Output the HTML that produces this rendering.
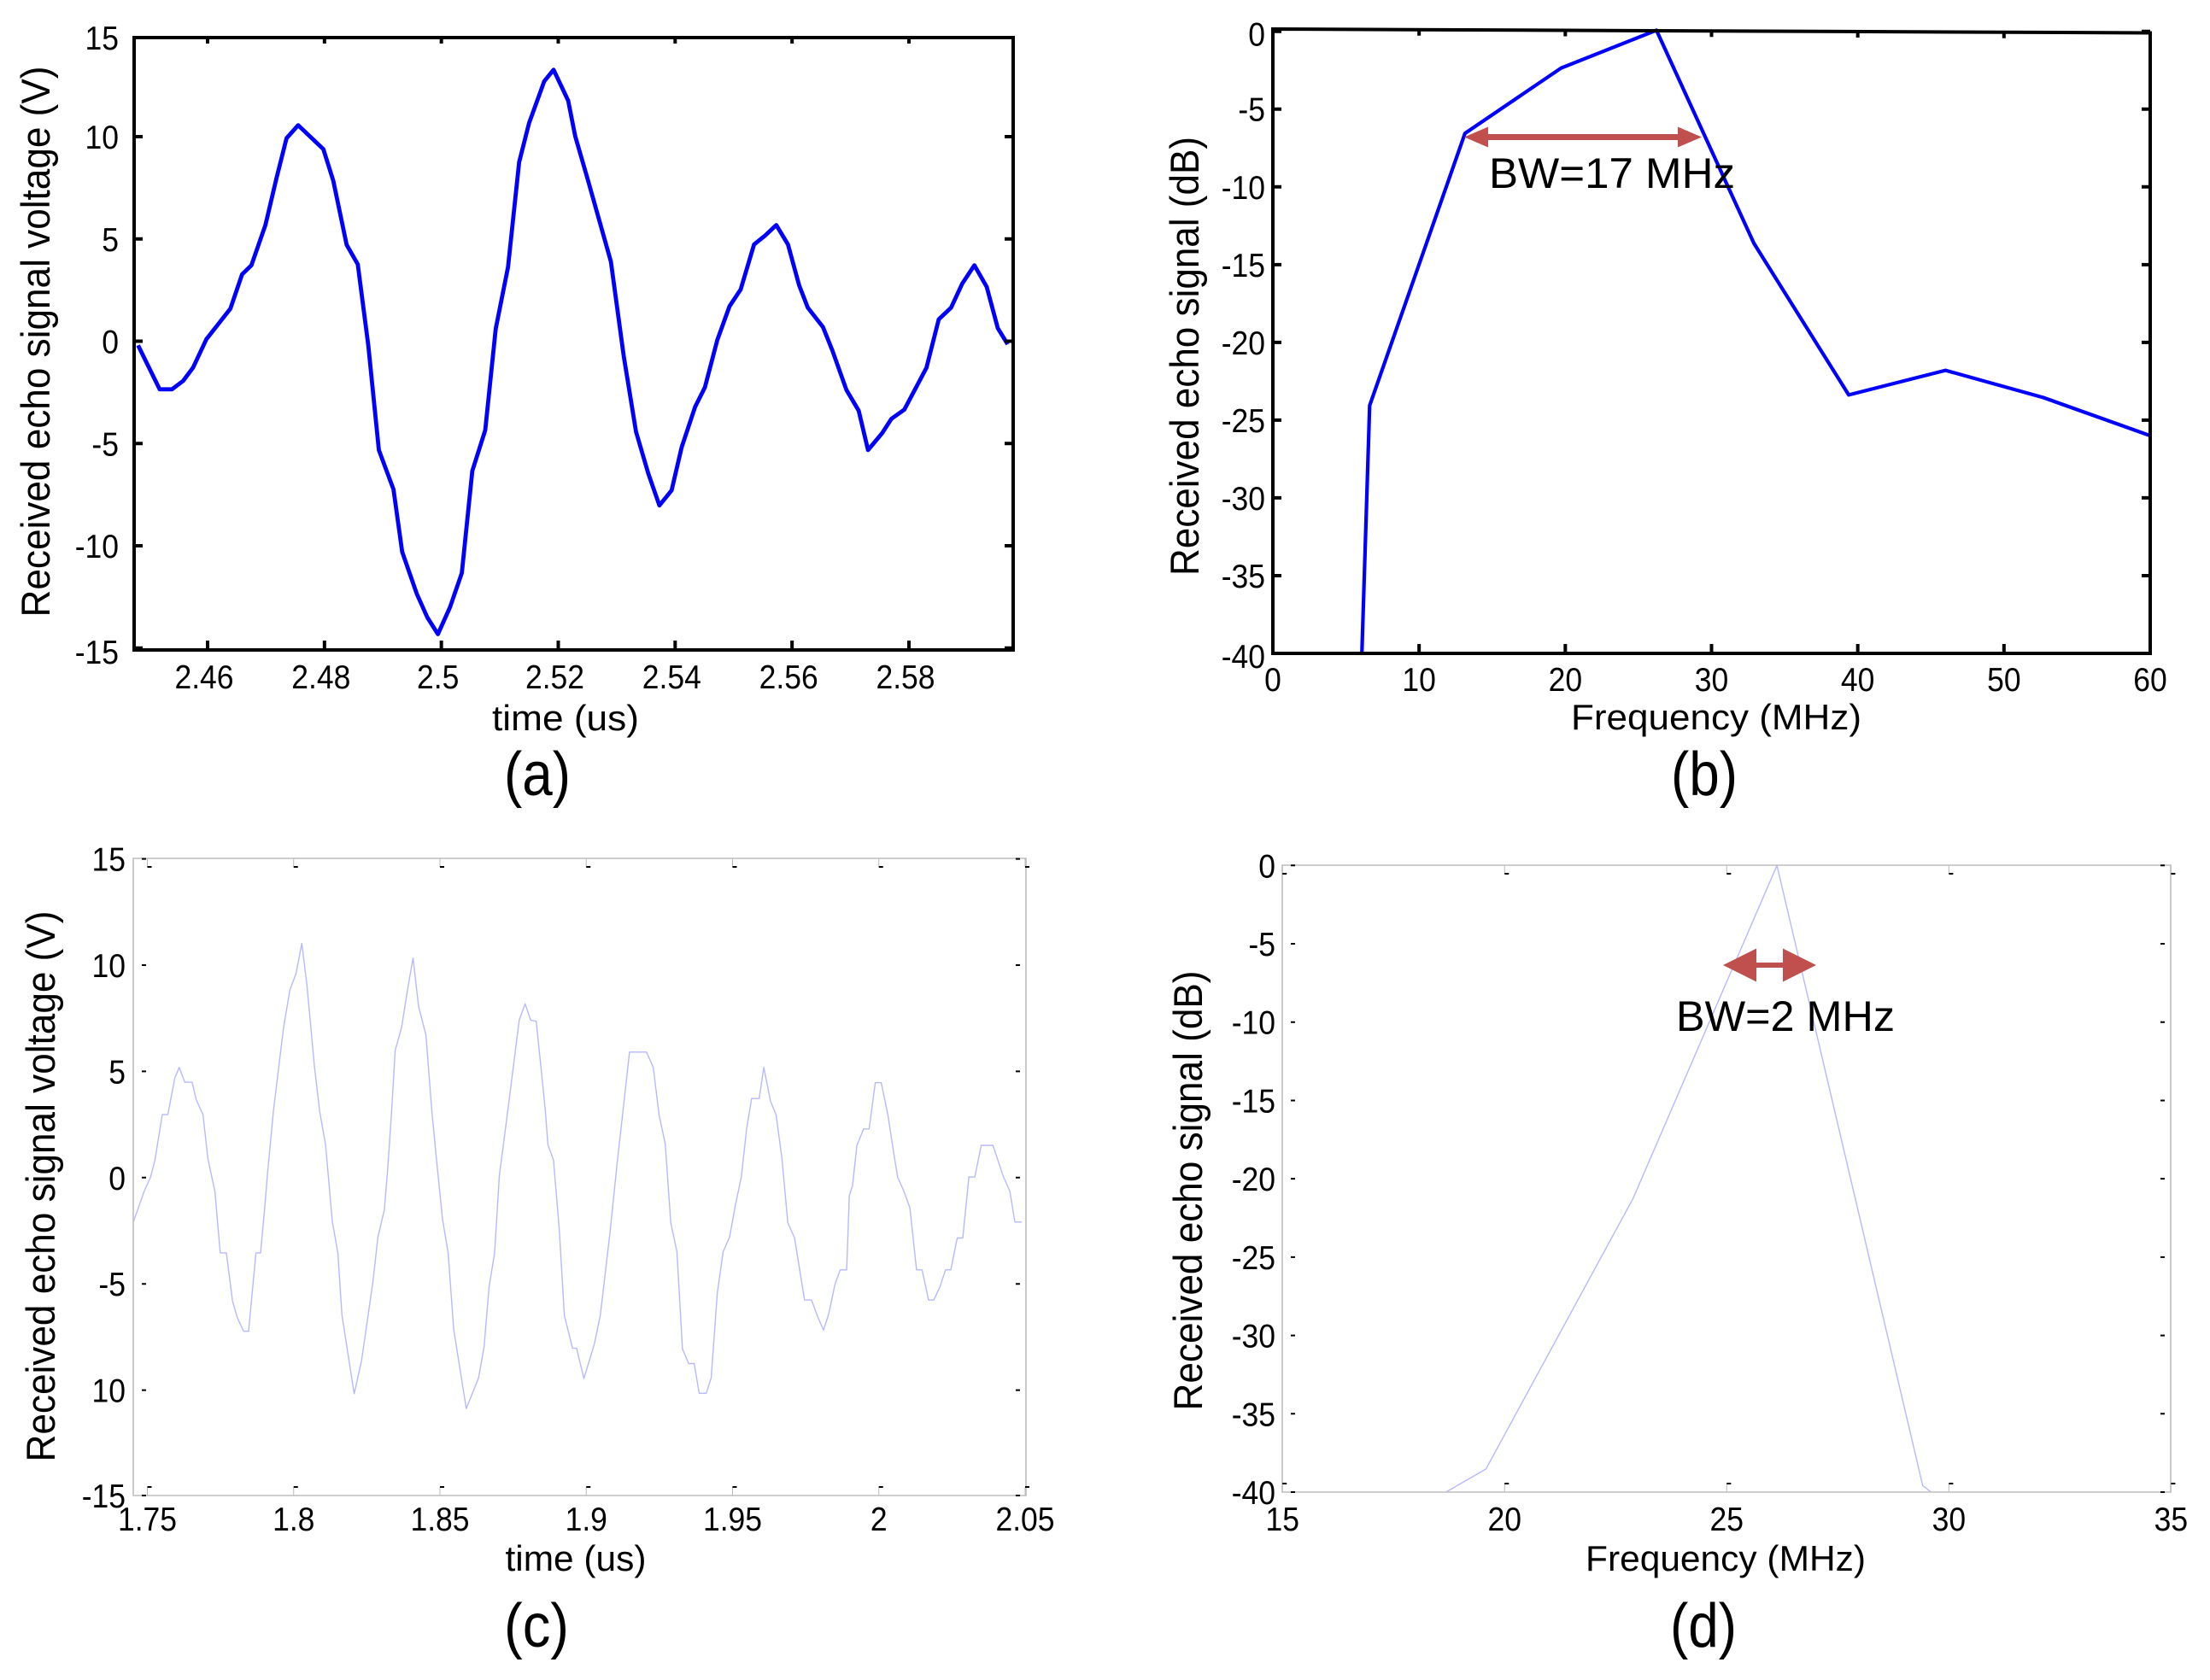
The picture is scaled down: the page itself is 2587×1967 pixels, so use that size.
<!DOCTYPE html>
<html lang="en">
<head>
<meta charset="utf-8">
<title>Received echo signal charts</title>
<style>
html,body{margin:0;padding:0;background:#fff;}
svg{display:block;}
text{font-family:"Liberation Sans",Arial,sans-serif;fill:#000;}
</style>
</head>
<body>
<svg id="figure" xmlns="http://www.w3.org/2000/svg" width="2587" height="1967" viewBox="0 0 2587 1967">
<rect x="0" y="0" width="2587" height="1967" fill="#fff"/>
</svg>
<script>
var aTime=[2.4481,2.4518,2.4539,2.4558,2.4575,2.4598,2.4639,2.4659,2.4675,2.4699,2.4718,2.4735,2.4755,2.4798,2.4815,2.4838,2.4857,2.4875,2.4893,2.4918,2.4933,2.4958,2.4976,2.4994,2.5015,2.5035,2.5053,2.5075,2.5093,2.5114,2.5133,2.5150,2.5176,2.5192,2.5217,2.5229,2.5251,2.5290,2.5312,2.5333,2.5354,2.5373,2.5394,2.5411,2.5434,2.5451,2.5472,2.5493,2.5512,2.5535,2.5554,2.5573,2.5593,2.5612,2.5627,2.5653,2.5669,2.5693,2.5714,2.5730,2.5754,2.5770,2.5792,2.5830,2.5851,2.5872,2.5891,2.5912,2.5933,2.5952,2.5969];
var aVolt=[-0.2,-2.35,-2.35,-1.94,-1.3,0.1,1.59,3.27,3.71,5.68,7.98,9.92,10.56,9.39,7.85,4.71,3.76,-0.2,-5.32,-7.24,-10.3,-12.35,-13.5,-14.32,-12.99,-11.33,-6.34,-4.35,0.61,3.63,8.75,10.66,12.71,13.27,11.76,10.03,7.85,3.89,-0.72,-4.42,-6.47,-8.03,-7.29,-5.19,-3.22,-2.25,0.05,1.71,2.53,4.73,5.17,5.68,4.73,2.74,1.64,0.69,-0.46,-2.38,-3.4,-5.32,-4.5,-3.79,-3.35,-1.3,1.07,1.64,2.81,3.71,2.66,0.64,-0.15];
var bFreq=[6.09,6.62,13.14,19.71,26.23,32.9,39.38,46.0,52.7,60];
var bDb=[-40,-24.06,-6.56,-2.36,0.07,-13.63,-23.38,-21.8,-23.55,-26.0];
var cTime=[1.7452,1.7489,1.7511,1.7526,1.7551,1.7570,1.7594,1.7609,1.7628,1.7653,1.7667,1.7690,1.7707,1.7731,1.7749,1.7770,1.7791,1.7808,1.7829,1.7846,1.7871,1.7887,1.7902,1.7910,1.7931,1.7965,1.7987,1.8008,1.8028,1.8045,1.8071,1.8089,1.8109,1.8132,1.8151,1.8165,1.8207,1.8232,1.8271,1.8288,1.8310,1.8322,1.8335,1.8347,1.8369,1.8389,1.8408,1.8427,1.8452,1.8472,1.8489,1.8509,1.8528,1.8547,1.8590,1.8632,1.8651,1.8668,1.8687,1.8703,1.8732,1.8771,1.8791,1.8810,1.8829,1.8849,1.8860,1.8869,1.8888,1.8908,1.8925,1.8953,1.8967,1.8992,1.9028,1.9048,1.9081,1.9106,1.9126,1.9148,1.9206,1.9229,1.9249,1.9270,1.9289,1.9310,1.9329,1.9350,1.9369,1.9386,1.9410,1.9427,1.9448,1.9468,1.9490,1.9509,1.9530,1.9548,1.9565,1.9591,1.9607,1.9630,1.9649,1.9669,1.9689,1.9712,1.9746,1.9770,1.9790,1.9811,1.9829,1.9850,1.9868,1.9890,1.9899,1.9910,1.9925,1.9948,1.9967,1.9988,2.0008,2.0031,2.0046,2.0064,2.0086,2.0106,2.0129,2.0148,2.0170,2.0188,2.0209,2.0228,2.0246,2.0268,2.0287,2.0308,2.0328,2.0350,2.0390,2.0426,2.0448,2.0465,2.0488];
var cVolt=[-2.09,-0.65,0.03,0.83,2.97,2.97,4.70,5.19,4.49,4.49,3.67,2.97,0.88,-0.65,-3.54,-3.54,-5.81,-6.61,-7.23,-7.23,-3.54,-3.54,-1.27,0.08,3.15,7.02,8.83,9.60,11.02,9.09,5.22,3.12,1.55,-2.07,-3.54,-6.48,-10.17,-8.62,-4.88,-2.79,-1.52,0.49,3.18,5.99,7.07,8.83,10.33,8.06,6.71,3.18,0.75,-1.99,-3.54,-7.15,-10.87,-9.42,-7.95,-5.14,-3.54,0.08,3.18,7.41,8.18,7.41,7.36,4.70,3.18,1.55,0.83,-2.45,-6.48,-8.03,-8.03,-9.45,-7.82,-6.48,-2.61,0.75,3.18,5.91,5.91,5.19,2.95,1.59,-2.12,-3.49,-8.06,-8.75,-8.75,-10.15,-10.15,-9.42,-5.42,-3.49,-2.79,-1.34,0.03,2.27,3.72,3.72,5.19,3.59,2.95,0.88,-2.12,-2.84,-5.76,-5.76,-6.51,-7.18,-6.40,-5.03,-4.34,-4.34,-0.85,-0.39,1.52,2.29,2.29,4.47,4.47,2.95,1.59,0.03,-0.65,-1.42,-4.34,-4.34,-5.76,-5.76,-5.14,-4.34,-4.34,-2.84,-2.84,0.03,0.03,1.52,1.52,0.03,-0.65,-2.09,-2.09];
var dFreq=[18.68,19.58,22.89,26.13,29.41,29.6];
var dDb=[-40,-38.53,-21.26,0,-39.58,-40];

var aXTicks=[2.46,2.48,2.5,2.52,2.54,2.56,2.58];
var aXLabels=["2.46","2.48","2.5","2.52","2.54","2.56","2.58"];
var aYTicks=[15,10,5,0,-5,-10,-15];
var bXTicks=[0,10,20,30,40,50,60];
var bYTicks=[0,-5,-10,-15,-20,-25,-30,-35,-40];
var cXTicks=[1.75,1.8,1.85,1.9,1.95,2,2.05];
var cXLabels=["1.75","1.8","1.85","1.9","1.95","2","2.05"];
var cYTicks=[15,10,5,0,-5,-10,-15];
var cYLabels=["15","10","5","0","-5","10","-15"];
var dXTicks=[15,20,25,30,35];
var dYTicks=[0,-5,-10,-15,-20,-25,-30,-35,-40];

var NS="http://www.w3.org/2000/svg";
var svg=document.getElementById("figure");

function make(tag,parent,name,attrs){
  var el=document.createElementNS(NS,tag);
  
  
  for(var k in attrs){el.setAttribute(k,attrs[k]);}
  parent.appendChild(el);
  return el;
}
function label(parent,name,str,x,y,size,anchor,opts){
  opts=opts||{};
  var t=make("text",parent,name,{x:x,y:y,"font-size":size,"text-anchor":anchor});
  t.textContent=str;
  if(opts.rotate){t.setAttribute("transform","rotate(-90 "+x+" "+y+")");}
  var len=opts.width||(t.getComputedTextLength()*(opts.sx||1));
  t.setAttribute("textLength",len);
  t.setAttribute("lengthAdjust","spacingAndGlyphs");
  return t;
}
function linear(v1,p1,v2,p2){return function(v){return p1+(v-v1)*(p2-p1)/(v2-v1);};}

function panel(c){
  var g=make("g",svg,c.name,{});
  var X=linear(c.xMap[0],c.xMap[1],c.xMap[2],c.xMap[3]);
  var Y=linear(c.yMap[0],c.yMap[1],c.yMap[2],c.yMap[3]);
  var L=c.box[0],T=c.box[1],R=c.box[2],B=c.box[3];
  var tr=c.topRight===undefined?T:c.topRight;
  make("polyline",g,"signal-line",{points:c.xs.map(function(v,i){return X(v).toFixed(1)+","+Y(c.ys[i]).toFixed(1);}).join(" "),fill:"none",stroke:c.lineColor,"stroke-width":c.lineWidth,"stroke-linejoin":"round"});
  make("path",g,"axes-frame",{d:"M"+L+" "+T+"L"+R+" "+tr+"L"+R+" "+B+"L"+L+" "+B+"Z",fill:"none",stroke:c.frameColor,"stroke-width":c.frameWidth});
  c.xTicks.forEach(function(v,i){
    var x=X(v);
    var txt=c.xLabels?c.xLabels[i]:String(v);
    label(g,"x-tick-label",txt,x+(c.xLabelDx||0),c.xLabelY,c.tickSize,"middle",{sx:c.sx});
    if(c.thin){
      make("path",g,"x-tick",{d:"M"+x+" "+B+"V"+(B-10)+"M"+x+" "+T+"V"+(T+10),stroke:"#bbb","stroke-width":1,fill:"none"});
      make("path",g,"x-tick-dash",{d:"M"+x+" "+(B-10)+"h5M"+x+" "+(T+10)+"h5",stroke:"#000","stroke-width":2,fill:"none"});
    }else{
      var topY=T+(tr-T)*(x-L)/(R-L);
      make("path",g,"x-tick",{d:"M"+x+" "+B+"V"+(B-11)+"M"+x+" "+topY+"V"+(topY+7),stroke:"#000","stroke-width":4,fill:"none"});
    }
  });
  c.yTicks.forEach(function(v,i){
    var y=Math.min(Math.max(Y(v),T),B);
    var txt=c.yLabels?c.yLabels[i]:String(v);
    var extra=(i===0?(c.firstDy||0):0)+(i===c.yTicks.length-1?(c.lastDy||0):0);
    label(g,"y-tick-label",txt,c.yLabelX,y+c.yLabelDy+extra,c.tickSize,"end",{sx:c.sx});
    if(c.thin){
      make("path",g,"y-tick-dash",{d:"M"+(L+10)+" "+y+"h5M"+(R-12)+" "+y+"h5",stroke:"#000","stroke-width":2,fill:"none"});
    }else{
      make("path",g,"y-tick",{d:"M"+L+" "+y+"h10M"+R+" "+y+"h-10",stroke:"#000","stroke-width":4,fill:"none"});
    }
  });
  label(g,"x-axis-title",c.xTitle,c.xTitlePos[0],c.xTitlePos[1],42,"middle",{width:c.xTitlePos[2]});
  label(g,"y-axis-title",c.yTitle,c.yTitlePos[0],c.yTitlePos[1],47,"middle",{rotate:true,width:c.yTitlePos[2]});
  label(g,"panel-label",c.tag,c.tagPos[0],c.tagPos[1],72,"middle",{width:c.tagPos[2]});
  return g;
}

var gA=panel({name:"panel-a-time-signal",xs:aTime,ys:aVolt,xMap:[2.46,243,2.58,1064],yMap:[0,399.5,10,160],box:[157,44,1186,761],
  lineColor:"#0000ff",lineWidth:4.8,frameColor:"#000",frameWidth:4,xTicks:aXTicks,xLabels:aXLabels,yTicks:aYTicks,xLabelDx:-4,lastDy:4,
  xLabelY:806,yLabelX:139,yLabelDy:14,tickSize:39,sx:0.91,xTitle:"time (us)",xTitlePos:[662,855,172],
  yTitle:"Received echo signal voltage (V)",yTitlePos:[58,400,645],tag:"(a)",tagPos:[629,931,78]});
var gB=panel({name:"panel-b-frequency-spectrum",xs:bFreq,ys:bDb,xMap:[0,1490,60,2517],yMap:[0,36.7,-40,765],box:[1490,34,2517,765],topRight:38.5,
  lineColor:"#0000ff",lineWidth:4.2,frameColor:"#000",frameWidth:4,xTicks:bXTicks,yTicks:bYTicks,firstDy:3,lastDy:3,
  xLabelY:809,yLabelX:1481,yLabelDy:14,tickSize:39,sx:0.91,xTitle:"Frequency (MHz)",xTitlePos:[2009,854,340],
  yTitle:"Received echo signal (dB)",yTitlePos:[1403,417,514],tag:"(b)",tagPos:[1995,931,78]});
var gC=panel({name:"panel-c-time-signal",xs:cTime,ys:cVolt,xMap:[1.75,172.5,2.05,1200],yMap:[0,1378.8,10,1130],box:[156,1005,1201,1751],
  lineColor:"#b8b8ff",lineWidth:1.4,frameColor:"#bdbdbd",frameWidth:1.6,thin:true,xTicks:cXTicks,xLabels:cXLabels,yTicks:cYTicks,yLabels:cYLabels,
  xLabelY:1792,yLabelX:147,yLabelDy:14,tickSize:39,sx:0.91,xTitle:"time (us)",xTitlePos:[674,1839,165],
  yTitle:"Received echo signal voltage (V)",yTitlePos:[64,1389,645],tag:"(c)",tagPos:[628,1928,76]});
var gD=panel({name:"panel-d-frequency-spectrum",xs:dFreq,ys:dDb,xMap:[15,1501.2,35,2541.4],yMap:[0,1013.3,-40,1747],box:[1501,1013,2541,1747],
  lineColor:"#b8b8ff",lineWidth:1.4,frameColor:"#bdbdbd",frameWidth:1.6,thin:true,xTicks:dXTicks,yTicks:dYTicks,
  xLabelY:1792,yLabelX:1493,yLabelDy:14,tickSize:39,sx:0.91,xTitle:"Frequency (MHz)",xTitlePos:[2020,1839,328],
  yTitle:"Received echo signal (dB)",yTitlePos:[1407,1394,515],tag:"(d)",tagPos:[1994,1928,78]});

function arrow(parent,name,x1,x2,y,headLen,headH,shaft){
  var h=headH/2,s=shaft/2;
  make("path",parent,name,{d:"M"+x1+" "+y+"L"+(x1+headLen)+" "+(y-h)+"V"+(y-s)+"H"+(x2-headLen)+"V"+(y-h)+"L"+x2+" "+y+"L"+(x2-headLen)+" "+(y+h)+"V"+(y+s)+"H"+(x1+headLen)+"V"+(y+h)+"Z",fill:"#c0504d"});
}
arrow(gB,"bandwidth-arrow",1714,1992,160.5,28,24,7);
label(gB,"bandwidth-label","BW=17 MHz",1743,220,50,"start",{width:288});
arrow(gD,"bandwidth-arrow",2017,2126,1130,39,39,6);
label(gD,"bandwidth-label","BW=2 MHz",1962,1207,50,"start",{width:256});
</script>
</body>
</html>
